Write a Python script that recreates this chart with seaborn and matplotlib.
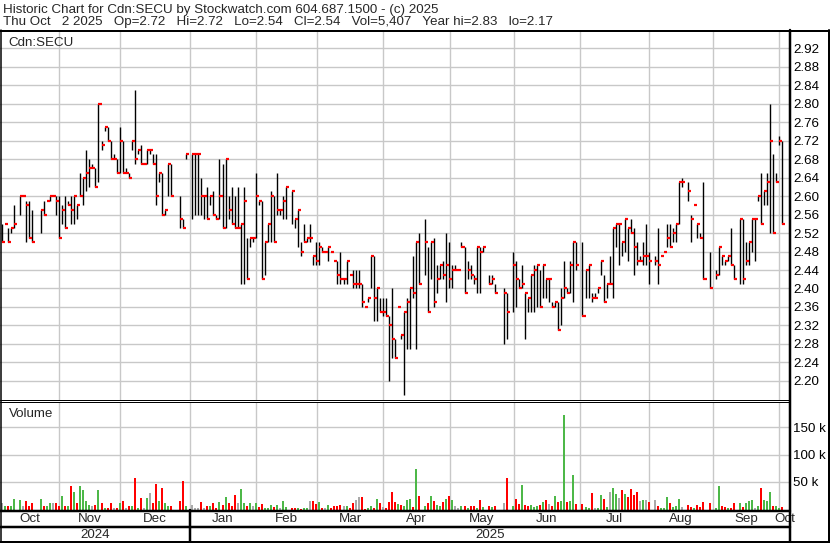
import numpy as np
import pandas as pd
import matplotlib
matplotlib.use("Agg")
import matplotlib.pyplot as plt
from matplotlib.lines import Line2D
import seaborn as sns

sns.set_theme(style="white")
plt.rcParams['font.family'] = ['Liberation Sans', 'DejaVu Sans']

# ---------------- data (one entry per weekday, None = no trade / holiday) -------------
start_date, end_date = "2024-10-07", "2025-10-02"

high = [
    2.54, 2.54, 2.53, 2.53, 2.58, None, 2.60, 2.60, 2.59, 2.59,
    2.57, None, None, 2.57, 2.59, 2.59, 2.60, 2.60, 2.60, 2.60,
    2.58, 2.60, 2.59, 2.60, 2.60, 2.58, 2.65, 2.64, 2.70, 2.68,
    2.67, 2.66, 2.80, 2.72, 2.75, 2.75, 2.72, 2.69, 2.68, 2.75,
    2.72, 2.66, 2.65, 2.72, 2.83, 2.70, 2.71, 2.67, 2.70, 2.70,
    2.69, 2.69, 2.65, 2.65, 2.57, 2.67, 2.67, None, None, 2.60,
    2.55, 2.69, None, 2.69, 2.69, 2.69, 2.64, 2.60, 2.62, 2.60,
    2.61, 2.56, 2.68, 2.67, 2.68, 2.60, 2.62, 2.60, 2.62, 2.54,
    2.62, 2.51, 2.51, 2.51, 2.65, 2.59, 2.59, 2.50, 2.54, 2.61,
    2.60, 2.65, 2.57, 2.60, 2.62, None, 2.61, 2.55, 2.57, 2.50,
    2.54, 2.51, 2.54, 2.47, 2.50, 2.50, 2.49, 2.48, 2.49, 2.48,
    2.46, 2.46, 2.48, 2.42, 2.46, 2.43, 2.44, 2.44, 2.44, 2.41,
    2.36, 2.38, 2.47, 2.47, 2.40, 2.38, 2.38, 2.38, 2.34, 2.40,
    2.29, 2.36, 2.30, 2.35, 2.38, 2.40, 2.47, 2.50, 2.52, None,
    2.55, 2.49, 2.50, 2.51, 2.45, 2.45, 2.46, 2.52, 2.50, 2.45,
    2.45, 2.44, 2.50, 2.49, 2.46, 2.45, 2.43, 2.49, 2.49, 2.49,
    None, 2.43, 2.43, 2.41, None, None, 2.40, 2.39, None, 2.48,
    2.46, 2.42, 2.45, 2.39, 2.38, 2.43, 2.45, 2.45, 2.44, 2.45,
    2.42, 2.42, 2.37, 2.37, 2.37, 2.40, 2.46, 2.40, 2.46, 2.50,
    2.50, None, 2.50, 2.44, 2.45, 2.39, 2.39, 2.40, 2.46, 2.43,
    2.41, 2.47, 2.53, 2.54, 2.54, 2.50, 2.55, 2.53, 2.55, 2.53,
    2.50, 2.47, 2.50, 2.54, 2.48, None, 2.47, 2.53, 2.47, 2.48,
    2.54, 2.54, 2.53, 2.54, 2.63, 2.64, None, 2.63, 2.56, 2.58,
    2.54, 2.52, 2.63, None, 2.48, None, 2.44, 2.49, 2.47, 2.46,
    2.47, 2.53, 2.45, None, 2.55, 2.55, 2.50, 2.50, 2.55, 2.55,
    2.60, 2.65, 2.61, 2.65, 2.80, 2.69, 2.65, 2.73, 2.72,
]

low = [
    2.50, 2.54, 2.50, 2.52, 2.53, None, 2.56, 2.60, 2.50, 2.51,
    2.50, None, None, 2.52, 2.56, 2.59, 2.59, 2.60, 2.56, 2.51,
    2.54, 2.53, 2.58, 2.54, 2.54, 2.55, 2.60, 2.58, 2.61, 2.62,
    2.66, 2.62, 2.63, 2.70, 2.74, 2.72, 2.68, 2.68, 2.65, 2.65,
    2.65, 2.65, 2.64, 2.70, 2.67, 2.69, 2.67, 2.67, 2.67, 2.69,
    2.67, 2.58, 2.63, 2.56, 2.56, 2.60, 2.60, None, None, 2.53,
    2.53, 2.68, None, 2.55, 2.56, 2.56, 2.56, 2.55, 2.55, 2.58,
    2.56, 2.55, 2.55, 2.53, 2.53, 2.55, 2.54, 2.53, 2.53, 2.41,
    2.41, 2.42, 2.49, 2.50, 2.51, 2.58, 2.42, 2.43, 2.50, 2.50,
    2.50, 2.56, 2.56, 2.55, 2.55, None, 2.54, 2.53, 2.49, 2.47,
    2.50, 2.50, 2.50, 2.45, 2.45, 2.45, 2.48, 2.48, 2.46, 2.48,
    2.46, 2.41, 2.41, 2.41, 2.41, 2.43, 2.40, 2.40, 2.40, 2.36,
    2.36, 2.37, 2.40, 2.33, 2.33, 2.35, 2.34, 2.34, 2.20, 2.25,
    2.25, 2.36, 2.29, 2.17, 2.27, 2.27, 2.38, 2.27, 2.41, None,
    2.43, 2.35, 2.42, 2.36, 2.39, 2.42, 2.42, 2.37, 2.40, 2.40,
    2.44, 2.44, 2.49, 2.39, 2.42, 2.42, 2.41, 2.39, 2.39, 2.48,
    None, 2.41, 2.41, 2.39, None, None, 2.28, 2.29, None, 2.35,
    2.36, 2.40, 2.40, 2.29, 2.35, 2.35, 2.35, 2.36, 2.36, 2.38,
    2.38, 2.37, 2.36, 2.36, 2.31, 2.32, 2.38, 2.39, 2.39, 2.37,
    2.44, None, 2.34, 2.38, 2.38, 2.37, 2.38, 2.39, 2.43, 2.37,
    2.38, 2.41, 2.38, 2.49, 2.45, 2.47, 2.48, 2.46, 2.52, 2.43,
    2.45, 2.46, 2.45, 2.45, 2.41, None, 2.45, 2.41, 2.47, 2.48,
    2.49, 2.49, 2.50, 2.50, 2.54, 2.62, None, 2.59, 2.50, 2.58,
    2.51, 2.51, 2.42, None, 2.40, None, 2.42, 2.43, 2.45, 2.45,
    2.46, 2.45, 2.42, None, 2.41, 2.41, 2.45, 2.45, 2.48, 2.46,
    2.59, 2.54, 2.58, 2.58, 2.52, 2.52, 2.63, 2.71, 2.54,
]

close = [
    2.50, 2.54, 2.50, 2.53, 2.54, None, 2.60, 2.60, 2.58, 2.51,
    2.50, None, None, 2.57, 2.56, 2.59, 2.60, 2.60, 2.59, 2.51,
    2.57, 2.53, 2.58, 2.57, 2.60, 2.58, 2.60, 2.64, 2.65, 2.66,
    2.66, 2.62, 2.80, 2.71, 2.75, 2.72, 2.68, 2.68, 2.65, 2.72,
    2.65, 2.65, 2.64, 2.72, 2.68, 2.70, 2.67, 2.67, 2.70, 2.70,
    2.67, 2.60, 2.65, 2.56, 2.57, 2.67, 2.60, None, None, 2.55,
    2.53, 2.69, None, 2.69, 2.69, 2.69, 2.60, 2.60, 2.55, 2.60,
    2.56, 2.55, 2.60, 2.53, 2.68, 2.57, 2.54, 2.53, 2.53, 2.54,
    2.59, 2.42, 2.51, 2.51, 2.60, 2.59, 2.42, 2.50, 2.54, 2.60,
    2.50, 2.57, 2.57, 2.59, 2.62, None, 2.61, 2.55, 2.57, 2.48,
    2.50, 2.51, 2.51, 2.47, 2.46, 2.49, 2.48, 2.48, 2.49, 2.48,
    2.46, 2.43, 2.42, 2.42, 2.46, 2.43, 2.41, 2.41, 2.41, 2.37,
    2.36, 2.38, 2.47, 2.38, 2.40, 2.35, 2.35, 2.34, 2.32, 2.29,
    2.25, 2.36, 2.30, 2.35, 2.37, 2.40, 2.39, 2.50, 2.41, None,
    2.50, 2.35, 2.50, 2.37, 2.42, 2.45, 2.43, 2.45, 2.42, 2.44,
    2.44, 2.44, 2.49, 2.39, 2.44, 2.43, 2.42, 2.49, 2.48, 2.49,
    None, 2.41, 2.42, 2.39, None, None, 2.39, 2.35, None, 2.45,
    2.42, 2.40, 2.41, 2.39, 2.38, 2.43, 2.44, 2.45, 2.36, 2.45,
    2.42, 2.42, 2.36, 2.37, 2.31, 2.38, 2.40, 2.39, 2.45, 2.50,
    2.45, None, 2.34, 2.44, 2.45, 2.38, 2.38, 2.40, 2.46, 2.37,
    2.41, 2.41, 2.53, 2.54, 2.54, 2.50, 2.55, 2.53, 2.52, 2.49,
    2.46, 2.46, 2.47, 2.47, 2.46, None, 2.46, 2.45, 2.47, 2.48,
    2.51, 2.49, 2.52, 2.54, 2.63, 2.63, None, 2.61, 2.55, 2.58,
    2.54, 2.51, 2.42, None, 2.40, None, 2.43, 2.49, 2.47, 2.46,
    2.47, 2.45, 2.42, None, 2.55, 2.42, 2.46, 2.50, 2.55, 2.55,
    2.60, 2.54, 2.61, 2.63, 2.72, 2.52, 2.63, 2.72, 2.54,
]

volume_k = [
    11, 6, 7, 7, 20, None, 18, 7, 16, 7,
    11, None, None, 20, 6, 6, 11, 11, 11, 7,
    24, 7, 6, 42, 32, 11, 42, 35, 16, 9,
    6, 9, 35, 11, 2, 3, 12, 2, 3, 12,
    16, 2, 7, 7, 58, 2, 21, 2, 21, 30,
    12, 47, 16, 40, 12, 6, 6, None, None, 16,
    52, 7, None, 9, 3, 3, 14, 3, 7, 7,
    11, 2, 14, 9, 23, 11, 7, 26, 11, 37,
    12, 6, 12, 7, 11, 4, 10, 2, 2, 8,
    5, 8, 2, 16, 5, None, 2, 3, 2, 1,
    2, 3, 15, 16, 10, 13, 3, 2, 8, 3,
    7, 7, 8, 7, 7, 3, 11, 17, 22, 22,
    1, 3, 7, 3, 20, 11, 5, 3, 13, 31,
    13, 10, 8, 7, 17, 20, 4, 74, 24, None,
    7, 12, 25, 15, 9, 6, 13, 20, 25, 17,
    7, 3, 7, 6, 3, 7, 6, 3, 17, 5,
    None, 7, 4, 6, None, None, 12, 58, None, 6,
    20, 10, 45, 9, 7, 9, 4, 7, 9, 13,
    17, 10, 6, 25, 13, 15, 172, 13, 15, 62,
    10, None, 10, 4, 2, 30, 3, 3, 27, 19,
    5, 32, 39, 28, 21, 35, 29, 22, 38, 27,
    32, 16, 17, 17, 13, None, 17, 6, 2, 2,
    23, 12, 5, 7, 20, 4, None, 8, 5, 3,
    9, 5, 13, None, 12, None, 2, 42, 6, 4,
    2, 2, 12, None, 11, 4, 11, 15, 17, 3,
    6, 40, 17, 16, 31, 6, 7, 3, 5.4,
]

month_names = ["Oct", "Nov", "Dec", "Jan", "Feb", "Mar", "Apr", "May",
               "Jun", "Jul", "Aug", "Sep", "Oct"]
year_labels = ["2024", "2025"]
price_ticks = [2.20, 2.24, 2.28, 2.32, 2.36, 2.40, 2.44, 2.48, 2.52, 2.56,
               2.60, 2.64, 2.68, 2.72, 2.76, 2.80, 2.84, 2.88, 2.92]
vol_ticks = [50, 100, 150]

title1 = "Historic Chart for Cdn:SECU by Stockwatch.com 604.687.1500 - (c) 2025"
title2 = ("Thu Oct   2 2025   Op=2.72   Hi=2.72   Lo=2.54   Cl=2.54   "
          "Vol=5,407   Year hi=2.83   lo=2.17")

# ---------------- frame ----------------
days = pd.bdate_range(start_date, end_date)
df = pd.DataFrame({"date": days, "pos": np.arange(len(days), dtype=float),
                   "high": pd.array(high, dtype="Float64").astype(float),
                   "low": pd.array(low, dtype="Float64").astype(float),
                   "close": pd.array(close, dtype="Float64").astype(float),
                   "volume": pd.array(volume_k, dtype="Float64").astype(float)})
tr = df.dropna(subset=["close"]).copy()
diff = (tr["close"] - tr["close"].shift(1)).round(3)
tr["dir"] = np.where(diff > 0, "up", np.where(diff < 0, "down", "flat"))

W, H = 830, 543
XL = (-0.56, 260.6)


def rect(x0, y0, x1, y1):
    return [x0 / W, 1 - y1 / H, (x1 - x0) / W, (y1 - y0) / H]


fig = plt.figure(figsize=(W / 100, H / 100), dpi=100)
fig.patch.set_facecolor("white")

grid_c = "#c8c8c8"
fs = 9.6

# month boundaries
bounds = []
for (yy, mm) in [(2024, 11), (2024, 12), (2025, 1), (2025, 2), (2025, 3), (2025, 4),
                 (2025, 5), (2025, 6), (2025, 7), (2025, 8), (2025, 9), (2025, 10)]:
    first = pd.Timestamp(yy, mm, 1)
    idx = days.searchsorted(first)
    bounds.append(idx - 0.8 if first.weekday() >= 5 else idx + 0.1)

# price panel
axp = fig.add_axes(rect(0, 31, 790, 400))
axp.set_xlim(*XL)
axp.set_ylim(2.1589, 2.9568)
axp.set_yticks(price_ticks)
axp.set_yticklabels([f"{t:.2f}" for t in price_ticks])
axp.yaxis.tick_right()
axp.tick_params(axis="y", length=0, pad=2.5, labelsize=fs, colors="black")
axp.set_xticks(bounds)
axp.tick_params(axis="x", length=0, labelbottom=False)
axp.grid(True, color=grid_c, lw=1.0)
for s in axp.spines.values():
    s.set_visible(False)
axp.vlines(tr["pos"], tr["low"], tr["high"], color="black", lw=1.0, zorder=3)
axp.hlines(tr["close"], tr["pos"], tr["pos"] + 1.0, color="#ff0000", lw=1.6, zorder=4)
axp.text(8 / 790, 1 - 12 / 369, "Cdn:SECU", transform=axp.transAxes,
         ha="left", va="center", fontsize=fs)

# volume panel
axv = fig.add_axes(rect(0, 402, 790, 509.5))
sns.barplot(data=tr, x="pos", y="volume", hue="dir", native_scale=True,
            palette={"up": "#4db848", "down": "#ff0000", "flat": "#a9a9a9"},
            width=0.66, dodge=False, legend=False, errorbar=None,
            saturation=1, linewidth=0, ax=axv)
axv.set_xlim(*XL)
axv.set_ylim(0, 107.5 / 0.55)
axv.set_yticks(vol_ticks)
axv.set_yticklabels([f"{v} k" for v in vol_ticks])
axv.yaxis.tick_right()
axv.tick_params(axis="y", length=0, pad=2.5, labelsize=fs, colors="black")
axv.set_xticks(bounds)
axv.tick_params(axis="x", length=0, labelbottom=False)
axv.set_xlabel("")
axv.set_ylabel("")
axv.grid(True, color=grid_c, lw=1.0)
axv.set_axisbelow(True)
for s in axv.spines.values():
    s.set_visible(False)
axv.text(9 / 790, 1 - 12 / 107.5, "Volume", transform=axv.transAxes,
         ha="left", va="center", fontsize=fs)

# month row
axm = fig.add_axes(rect(0, 512, 790, 526))
axm.set_xlim(*XL)
axm.set_ylim(0, 1)
axm.axis("off")
edges = [XL[0]] + bounds + [XL[1]]
for name, a, b in zip(month_names, edges[:-1], edges[1:]):
    axm.text((a + b) / 2, 0.5, name, ha="center", va="center", fontsize=fs)

# year row
axy = fig.add_axes(rect(0, 528, 790, 541))
axy.set_xlim(*XL)
axy.set_ylim(0, 1)
axy.axis("off")
jan = bounds[2]
axy.text((XL[0] + jan) / 2, 0.5, year_labels[0], ha="center", va="center", fontsize=fs)
axy.text((jan + XL[1]) / 2, 0.5, year_labels[1], ha="center", va="center", fontsize=fs)

# header
fig.text(3 / W, 1 - 10 / H, title1, ha="left", va="center", fontsize=fs)
fig.text(3 / W, 1 - 22.5 / H, title2, ha="left", va="center", fontsize=fs)


def hline(y, x0, x1, px):
    fig.add_artist(Line2D([x0 / W, x1 / W], [1 - y / H, 1 - y / H], color="black",
                          lw=px * 0.72, transform=fig.transFigure, zorder=10))


def vline(x, y0, y1, px):
    fig.add_artist(Line2D([x / W, x / W], [1 - y0 / H, 1 - y1 / H], color="black",
                          lw=px * 0.72, transform=fig.transFigure, zorder=10))


hline(30.5, 0, 830, 2)
hline(399.5, 0, 790, 1)
hline(401.8, 0, 790, 1)
hline(510.5, 0, 790, 2.5)
hline(527, 0, 790, 2.5)
hline(542, 0, 830, 2)
vline(789.5, 30, 543, 2.5)
vline(829, 30, 543, 2)
vline(0.5, 30, 543, 1.5)
vline(190, 510, 543, 2.5)

fig.savefig("out.png", dpi=100, facecolor="white")
